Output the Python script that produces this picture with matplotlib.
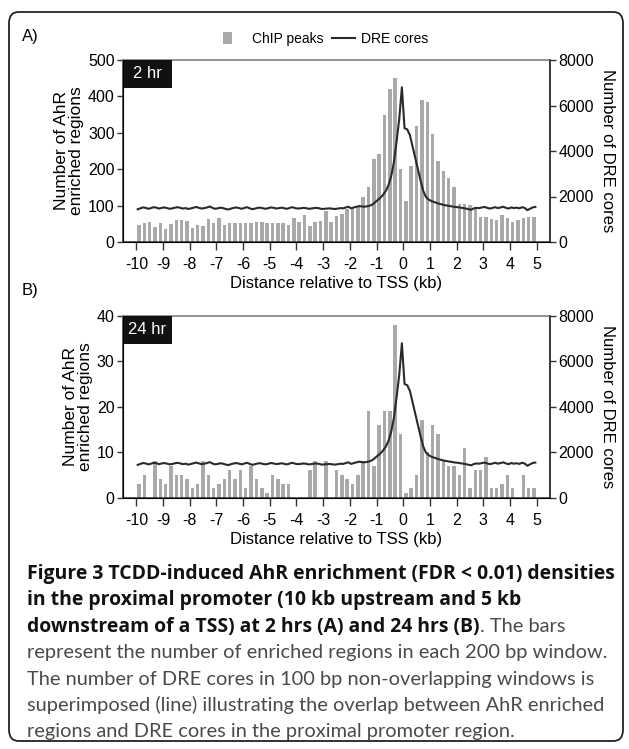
import numpy as np
import matplotlib.pyplot as plt
from matplotlib.patches import FancyBboxPatch, Rectangle
from matplotlib.lines import Line2D

plt.rcParams['font.family'] = ['Liberation Sans', 'DejaVu Sans']
plt.rcParams['axes.unicode_minus'] = False

# 200 bp windows from -10 kb to +5 kb
win_x = np.arange(-9.9, 5.0, 0.2)

chip_2hr = [46, 53, 54, 42, 53, 37, 50, 61, 60, 59,
            38, 48, 45, 64, 53, 66, 47, 53, 51, 51,
            51, 51, 55, 55, 51, 51, 51, 51, 47, 65,
            56, 74, 44, 55, 59, 84, 55, 71, 78, 92,
            94, 96, 125, 151, 227, 243, 350, 419, 451, 200,
            112, 208, 320, 390, 384, 298, 223, 194, 176, 150,
            104, 104, 101, 92, 68, 68, 63, 60, 75, 66,
            55, 61, 66, 70, 70]

chip_24hr = [3, 5, 0, 8, 4, 3, 7, 5, 5, 4,
             2, 3, 8, 5, 2, 3, 4, 6, 4, 6,
             2, 7, 4, 2, 1, 5, 4, 3, 3, 0,
             0, 0, 6, 8, 0, 8, 0, 6, 5, 4,
             3, 5, 8, 19, 7, 16, 19, 19, 38, 14,
             1, 2, 5, 17, 10, 16, 14, 8, 7, 7,
             5, 11, 2, 6, 6, 9, 2, 2, 3, 5,
             2, 0, 5, 2, 2]

# 100 bp windows for DRE cores
dre_x = np.arange(-9.95, 5.0, 0.1)
dre_cores = [1440, 1480, 1520, 1500, 1460, 1490, 1530, 1510, 1470, 1500,
             1520, 1490, 1460, 1480, 1510, 1530, 1500, 1470, 1490, 1450,
             1480, 1510, 1540, 1500, 1470, 1490, 1520, 1560, 1500, 1460,
             1480, 1510, 1490, 1450, 1430, 1470, 1500, 1520, 1490, 1460,
             1500, 1530, 1480, 1440, 1470, 1500, 1510, 1480, 1460, 1490,
             1520, 1500, 1470, 1490, 1510, 1480, 1460, 1500, 1530, 1490,
             1470, 1480, 1500, 1490, 1460, 1470, 1490, 1500, 1480, 1450,
             1460, 1470, 1480, 1460, 1450, 1470, 1490, 1480, 1520, 1550,
             1480, 1520, 1550, 1580, 1560, 1550, 1570, 1600, 1650, 1750,
             1850, 1950, 2080, 2250, 2500, 2900, 3500, 4400, 5400, 6800,
             5000, 4950, 4700, 4200, 3700, 3200, 2700, 2250, 1980, 1870,
             1800, 1760, 1720, 1680, 1650, 1620, 1600, 1580, 1560, 1540,
             1530, 1510, 1490, 1470, 1440, 1420, 1480, 1500, 1490, 1520,
             1540, 1500, 1470, 1500, 1530, 1490, 1520, 1550, 1500, 1470,
             1520, 1490, 1510, 1480, 1530, 1500, 1400, 1460, 1520, 1540]

W, H = 629, 749
fig = plt.figure(figsize=(W / 100, H / 100), dpi=100)


def px_axes(l, t, r, b):
    return fig.add_axes([l / W, 1 - b / H, (r - l) / W, (b - t) / H])


def panel(top, bottom, chip, ymax, ystep, tag):
    ax = px_axes(123, top, 550, bottom)
    ax.bar(win_x, chip, width=0.13, color='#a9a9a9', zorder=2)
    ax.set_xlim(-10.5, 5.5)
    ax.set_ylim(0, ymax)
    ax.set_xticks(range(-10, 6))
    ax.set_yticks(range(0, ymax + 1, ystep))
    ax.tick_params(labelsize=11.5, length=4, width=1, color='#333333', pad=2)
    ax.tick_params(axis='x', length=6, pad=5)
    for s in ['left', 'bottom', 'right']:
        ax.spines[s].set_color('#333333')
        ax.spines[s].set_linewidth(1.1)
    ax.spines['top'].set_color('#8a8a8a')
    ax.spines['top'].set_linewidth(1.3)
    ax.set_ylabel('Number of AhR\nenriched regions', fontsize=12.5, labelpad=3,
                  linespacing=1.0)
    ax.set_xlabel('Distance relative to TSS (kb)', fontsize=12, labelpad=3)

    ax2 = ax.twinx()
    ax2.plot(dre_x, dre_cores, color='#2a2a2a', lw=1.5, zorder=3)
    ax2.set_ylim(0, 8000)
    ax2.set_yticks(range(0, 8001, 2000))
    ax2.tick_params(labelsize=11.5, length=4, width=1, color='#333333', pad=2)
    ax2.spines['right'].set_color('#333333')
    ax2.spines['right'].set_linewidth(1.1)
    ax2.spines['top'].set_visible(False)
    ax2.set_ylabel('Number of DRE cores', fontsize=12, rotation=270,
                   labelpad=15)

    # time tag in the upper left corner
    bw = 49 / (550 - 123)
    bh = 28 / (bottom - top)
    ax.add_patch(Rectangle((0, 1 - bh), bw, bh, transform=ax.transAxes,
                           facecolor='#111111', edgecolor='none', zorder=5,
                           clip_on=False))
    ax.text(bw / 2, 1 - bh / 2, tag, transform=ax.transAxes, color='white',
            fontsize=12, ha='center', va='center', zorder=6)
    return ax


panel(60, 242, chip_2hr, 500, 100, '2 hr')
panel(316, 497.5, chip_24hr, 40, 10, '24 hr')

fig.text(22 / W, 1 - 36 / H, 'A)', fontsize=12, va='center')
fig.text(22 / W, 1 - 291 / H, 'B)', fontsize=12, va='center')

# legend
leg = fig.legend(handles=[Rectangle((0, 0), 1, 1, facecolor='#a9a9a9'),
                          Line2D([], [], color='#2a2a2a', lw=1.5)],
                 labels=['ChIP peaks', 'DRE cores'], ncol=2, frameon=False,
                 loc='center', bbox_to_anchor=(326 / W, 1 - 39 / H),
                 fontsize=10, handlelength=1.6, handleheight=1.0,
                 columnspacing=0.6, handletextpad=0.5)
leg.legend_handles[0].set_width(6)

# outer rounded frame
fig.patches.append(FancyBboxPatch((9 / W, 8 / H), 614 / W, 729 / H,
                                  boxstyle='round,pad=0,rounding_size=0.015',
                                  transform=fig.transFigure, fill=False,
                                  edgecolor='#222222', linewidth=1.3))

# caption
bold_font = ['Open Sans', 'DejaVu Sans']
plain_font = ['Lato', 'DejaVu Sans']
bold_lines = ['Figure 3 TCDD-induced AhR enrichment (FDR < 0.01) densities',
              'in the proximal promoter (10 kb upstream and 5 kb',
              'downstream of a TSS) at 2 hrs (A) and 24 hrs (B)']
plain_lines = ['represent the number of enriched regions in each 200 bp window.',
               'The number of DRE cores in 100 bp non-overlapping windows is',
               'superimposed (line) illustrating the overlap between AhR enriched',
               'regions and DRE cores in the proximal promoter region.']
renderer = fig.canvas.get_renderer()


def fit_size(text, width, **kw):
    probe = fig.text(0, 0, text, fontsize=10, **kw)
    size = 10 * width / probe.get_window_extent(renderer).width
    probe.remove()
    return size


bold_size = fit_size(bold_lines[0], 587, weight='bold', family=bold_font)
plain_size = fit_size(plain_lines[0], 580, family=plain_font)

x0 = 27 / W
y_line = 579
gap = 26.4
for line in bold_lines:
    t = fig.text(x0, 1 - y_line / H, line, fontsize=bold_size, weight='bold',
                 family=bold_font, va='baseline', color='#111111')
    y_line += gap
y_line -= gap
end = t.get_window_extent(renderer).x1
fig.text(end / W, 1 - y_line / H, '. The bars', fontsize=plain_size,
         family=plain_font, va='baseline', color='#4a4a4a')
y_line += gap
for line in plain_lines:
    fig.text(x0, 1 - y_line / H, line, fontsize=plain_size, family=plain_font,
             va='baseline', color='#4a4a4a')
    y_line += gap

fig.savefig('out.png', dpi=100)
